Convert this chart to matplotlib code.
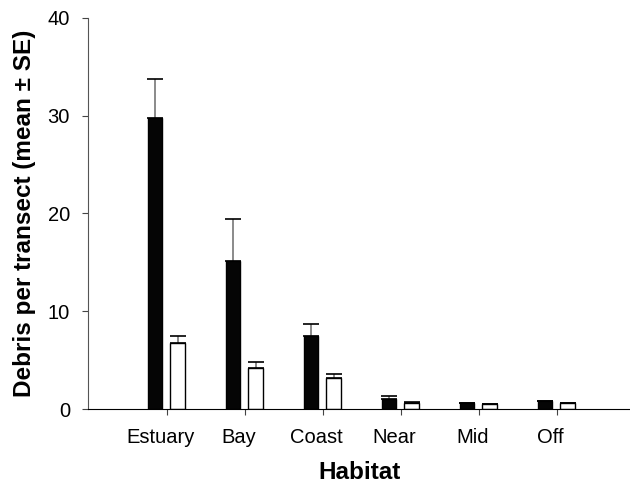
import numpy as np
import matplotlib.pyplot as plt

plt.rcParams['font.family'] = ['Liberation Sans', 'DejaVu Sans']

# data
habitats = ['Estuary', 'Bay', 'Coast', 'Near', 'Mid', 'Off']
black_mean = [29.8, 15.1, 7.5, 1.0, 0.58, 0.78]
black_se = [4.0, 4.3, 1.2, 0.33, 0.06, 0.07]
white_mean = [6.8, 4.2, 3.2, 0.58, 0.48, 0.6]
white_se = [0.7, 0.6, 0.35, 0.1, 0.05, 0.05]

fig = plt.figure(figsize=(6.3, 4.86), dpi=100)
ax = fig.add_axes([88 / 630, 77 / 486, 542 / 630, 391 / 486])

x = np.arange(len(habitats))
w = 0.19
off_b, off_w = -0.15, 0.14

ax.bar(x + off_b, black_mean, w, color='#050505', edgecolor='black', linewidth=1, zorder=2)
ax.bar(x + off_w, white_mean, w, color='white', edgecolor='black', linewidth=1, zorder=2)

for xs, m, se in [(x + off_b, black_mean, black_se), (x + off_w, white_mean, white_se)]:
    _, caps, _ = ax.errorbar(xs, m, yerr=[np.zeros(len(se)), se], fmt='none',
                             ecolor='#777777', elinewidth=1.2, capsize=6, capthick=1.2, zorder=1)
    for c in caps:
        c.set_markeredgecolor('black')
        c.set_color('black')

ax.set_xlim(-1.01, 5.94)
ax.set_ylim(0, 40)
ax.set_yticks([0, 10, 20, 30, 40])
# ticks sit at the category centres, labels are drawn a little to the left
ax.set_xticks(x)
ax.set_xticklabels([])
ax.set_xticks(x - 0.077, minor=True)
ax.set_xticklabels(habitats, minor=True, fontsize=14.5)
ax.tick_params(axis='x', which='minor', length=0, pad=14)
ax.tick_params(axis='x', which='major', length=4, color='#444444')
ax.tick_params(axis='y', labelsize=14.5, length=4, pad=9, color='#444444')

ax.spines['top'].set_visible(False)
ax.spines['right'].set_visible(False)
ax.spines['left'].set_color('#555555')
ax.spines['bottom'].set_color('black')

ax.set_xlabel('Habitat', fontsize=17.5, fontweight='bold', labelpad=10)
ax.set_ylabel('Debris per transect (mean ± SE)', fontsize=17.5, fontweight='bold', labelpad=8)

fig.savefig('out.png', dpi=100)
